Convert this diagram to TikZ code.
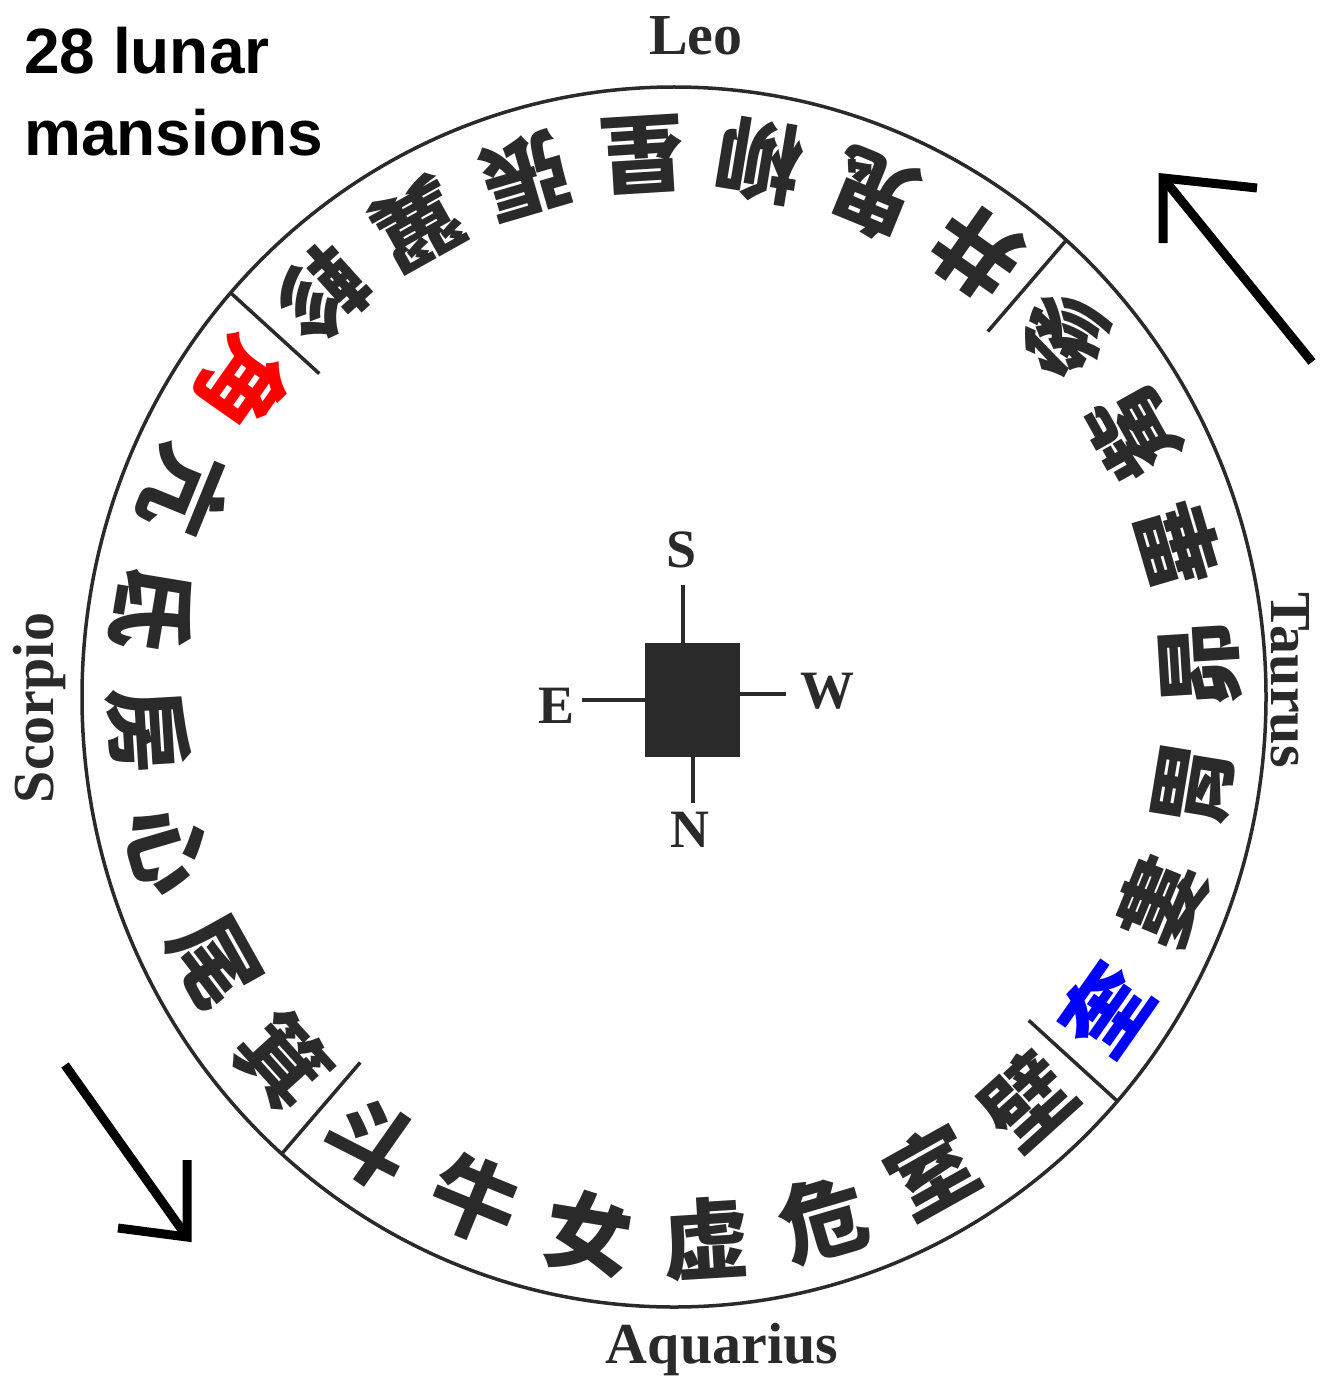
\documentclass[tikz,border=0pt]{standalone}
\usepackage{fontspec}
\setmainfont{Liberation Serif}
\newfontfamily\cjkfont{Noto Sans CJK TC}
\newfontfamily\labelsans{Liberation Sans}
\definecolor{ink}{RGB}{42,42,42}
\definecolor{redink}{RGB}{255,0,0}
\definecolor{blueink}{RGB}{0,0,255}
\begin{document}
\begin{tikzpicture}[x=1pt,y=-1pt,
  ring/.style={draw=ink,line width=3.5pt},
  divider/.style={draw=ink,line width=3.5pt},
  mansion/.style={font=\cjkfont\bfseries\fontsize{87}{87}\selectfont, inner sep=0pt, anchor=center},
  sign/.style={font=\bfseries\fontsize{58}{58}\selectfont, text=ink, inner sep=0pt},
  dirlabel/.style={font=\bfseries\fontsize{54}{54}\selectfont, text=ink, inner sep=0pt},
  spoke/.style={draw=ink,line width=4pt},
  bigarrow/.style={draw=black,line width=9pt,line join=miter,line cap=butt},
  title/.style={font=\labelsans\bfseries\fontsize{64}{82}\selectfont, text=black, inner sep=0pt, align=left, anchor=north west}
  ]
\useasboundingbox (0,0) rectangle (1319,1383);
\fill[white] (0,0) rectangle (1319,1383);

% ring
\coordinate (O) at (674,697);
\draw[ring] (O) ellipse [x radius=592, y radius=610];

% dividers between the four groups of seven
\foreach \a [count=\i] in {48.5,138.5,228.5,318.5} {
  \coordinate (dO\i) at ({674+592*cos(\a)},{697-610*sin(\a)});
  \coordinate (dI\i) at ({674+0.8*592*cos(\a)},{697-0.8*610*sin(\a)});
  \draw[divider] (dO\i) -- (dI\i);
}

% the 28 mansions
\foreach \c/\col [count=\n from 0] in {角/redink,亢/ink,氐/ink,房/ink,心/ink,尾/ink,箕/ink,斗/ink,牛/ink,女/ink,虚/ink,危/ink,室/ink,壁/ink,奎/blueink,婁/ink,胃/ink,昴/ink,畢/ink,觜/ink,參/ink,井/ink,鬼/ink,柳/ink,星/ink,張/ink,翼/ink,軫/ink} {
  \pgfmathsetmacro\ang{138.5+(\n+0.5)*90/7}
  \pgfmathsetmacro\rot{\ang+90}
  \node[mansion, text=\col, rotate=\rot] (m\n) at ({674+0.89*592*cos(\ang)},{697-0.89*610*sin(\ang)}) {\c};
}

% zodiac labels
\node[sign] (leo) at (696,36) {Leo};
\node[sign] (aquarius) at (722,1350) {Aquarius};
\node[sign, rotate=90] (scorpio) at (40,708) {Scorpio};
\node[sign, rotate=-90] (taurus) at (1290,680) {Taurus};

% compass
\node[fill=ink, minimum width=95, minimum height=114, inner sep=0pt] (sq) at (692.5,700) {};
\coordinate (sEnd) at (683,585);
\coordinate (nEnd) at (693,803);
\coordinate (eEnd) at (582,700);
\coordinate (wEnd) at (786,694);
\draw[spoke] (sq.north -| sEnd) -- (sEnd);
\draw[spoke] (sq.south -| nEnd) -- (nEnd);
\draw[spoke] (sq.west |- eEnd) -- (eEnd);
\draw[spoke] (sq.east |- wEnd) -- (wEnd);
\node[dirlabel] (S) at (682,550) {S};
\node[dirlabel] (N) at (690,830) {N};
\node[dirlabel] (E) at (557,706) {E};
\node[dirlabel] (W) at (827,691) {W};

% direction arrows
\coordinate (urTail) at (1312,362);
\coordinate (urTip) at (1163,178);
\coordinate (urH1) at (1257,188);
\coordinate (urH2) at (1163,243);
\draw[bigarrow] (urTail) -- (urTip);
\draw[bigarrow] (urH1) -- (urTip) -- (urH2);

\coordinate (llTail) at (65,1065);
\coordinate (llTip) at (187,1237);
\coordinate (llH1) at (187,1160);
\coordinate (llH2) at (118,1228);
\draw[bigarrow] (llTail) -- (llTip);
\draw[bigarrow] (llH1) -- (llTip) -- (llH2);

% title
\node[title] (ttl) at (24,27) {28 lunar\\mansions};
\end{tikzpicture}
\end{document}
